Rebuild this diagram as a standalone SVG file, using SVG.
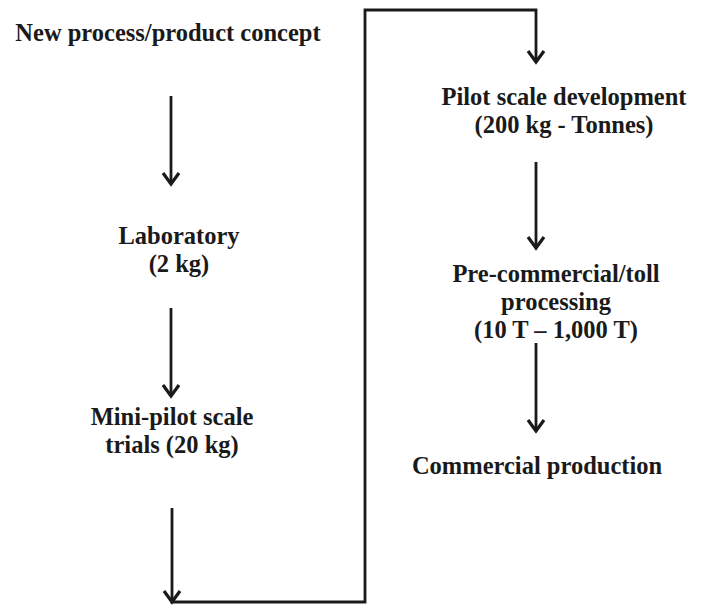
<svg xmlns="http://www.w3.org/2000/svg" width="704" height="605" viewBox="0 0 704 605">
<style>
text{font-family:"Liberation Serif","Times New Roman",serif;font-weight:bold;font-size:24.5px;fill:#1a1a1a;text-anchor:middle}
.c{fill:none;stroke:#1a1a1a;stroke-width:2.8}
.h{fill:none;stroke:#1a1a1a;stroke-width:3.2;stroke-linejoin:miter}
</style>
<rect width="704" height="605" fill="#fff"/>
<g id="connectors">
<line class="c" x1="171" y1="96" x2="171" y2="184"/>
<path class="h" d="M163,173 L171,184 L179,173"/>
<line class="c" x1="171" y1="308" x2="171" y2="396"/>
<path class="h" d="M163,385 L171,396 L179,385"/>
<path class="c" d="M172,508 L172,602 L365,602 L365,10 L536,10 L536,62"/>
<path class="h" d="M164,591 L172,602 L180,591"/>
<path class="h" d="M528,51 L536,62 L544,51"/>
<line class="c" x1="536" y1="162" x2="536" y2="248"/>
<path class="h" d="M528,237 L536,248 L544,237"/>
<line class="c" x1="536" y1="343" x2="536" y2="431"/>
<path class="h" d="M528,420 L536,431 L544,420"/>
</g>
<g id="n1"><text x="168" y="41">New process/product concept</text></g>
<g id="n2"><text x="179" y="244">Laboratory</text><text x="179" y="272">(2 kg)</text></g>
<g id="n3"><text x="172" y="425">Mini-pilot scale</text><text x="172" y="453">trials (20 kg)</text></g>
<g id="n4"><text x="564" y="105">Pilot scale development</text><text x="564" y="133">(200 kg - Tonnes)</text></g>
<g id="n5"><text x="556" y="282">Pre-commercial/toll</text><text x="556" y="310">processing</text><text x="556" y="338">(10 T – 1,000 T)</text></g>
<g id="n6"><text x="537" y="474">Commercial production</text></g>
</svg>
